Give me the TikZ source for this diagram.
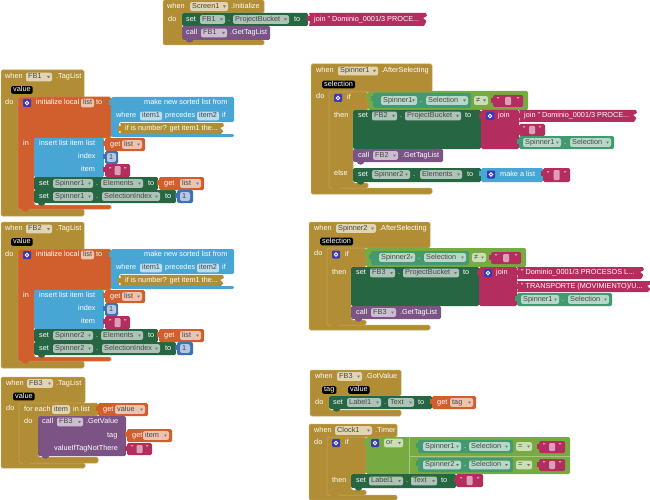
\documentclass[tikz,border=0pt]{standalone}
\usepackage{fontspec}
\setmainfont{Liberation Sans}
\definecolor{ctrlc}{HTML}{B18E35}
\definecolor{varc}{HTML}{D05F2D}
\definecolor{listc}{HTML}{49A6D4}
\definecolor{setc}{HTML}{266643}
\definecolor{getc}{HTML}{439970}
\definecolor{callc}{HTML}{7C5385}
\definecolor{textc}{HTML}{B32D5E}
\definecolor{logicc}{HTML}{77AB41}
\definecolor{mathc}{HTML}{3F71B5}
\definecolor{gearc}{HTML}{3A3AB8}
\tikzset{
  blk/.style={rounded corners=1.5pt},
  lab/.style={anchor=west, inner sep=0pt, text height=5.3pt, text depth=1.4pt, font=\fontsize{7.3}{9}\selectfont},
  wlab/.style={lab, text=white},
  flab/.style={lab, text=black!72},
  pilltext/.style={wlab, fill=black, rounded corners=1.5pt, inner xsep=2pt, inner ysep=0.6pt}
}
\newcounter{lab}
\newcommand\nlab[4]{\stepcounter{lab}\node[#1] (lb\arabic{lab}) at (#2,#3) {#4};}
\newcommand\wt[3]{\nlab{wlab}{#1}{#2}{#3}}
\newcommand\rblk[5]{\fill[#1, blk] (#2,#3) rectangle (#4,#5);}
\newcommand\bump[3]{\fill[#1, rounded corners=1pt] ({#2+4},{#3-1}) -- ({#2+4},{#3+1}) -- ({#2+6},{#3+2.5}) -- ({#2+9},{#3+2.5}) -- ({#2+11},{#3+1}) -- ({#2+11},{#3-1}) -- cycle;}
\newcommand\vblk[5]{\fill[#1] ({#2-2.5},{#3+3}) rectangle ({#2+1},{#3+8}); \rblk{#1}{#2}{#3}{#4}{#5}}
\newcommand\cblk[8]{\filldraw[fill=#1, draw=#1!80!white, line width=.5pt, blk] (#2,#3) -- (#4,#3) -- (#4,#7) -- (#6,#7) -- (#6,#8) -- (#4,#8) -- (#4,#5) -- (#2,#5) -- cycle;}
\newcommand\jag[5]{\fill[#1, rounded corners=.6pt] ({#2-2.5},{#3+3}) -- ({#2+1},{#3+3}) -- (#2,#3) -- ({#4+1},#3) -- ({#4+2},{#3+3}) -- ({#4-2},{#3+5}) -- ({#4+1.5},{#3+8}) -- ({#4-1},#5) -- (#2,#5) -- ({#2+1},{#3+8}) -- ({#2-2.5},{#3+8}) -- cycle;}
\newcommand\plainf[4]{\fill[white, fill opacity=.62, rounded corners=2pt] (#1,{#3-4.4}) rectangle (#2,{#3+4.4}); \nlab{flab}{#1+2}{#3}{#4}}
\newcommand\dropf[4]{\plainf{#1}{#2}{#3}{#4}\fill[black!55] ({#2-5},{#3-1}) -- ({#2-2},{#3-1}) -- ({#2-3.5},{#3+1.2}) -- cycle;}
\newcommand\pill[3]{\nlab{pilltext}{#1}{#2}{#3}}
\newcommand\gear[2]{\fill[gearc, rounded corners=1pt] (#1,{#2-4}) rectangle ({#1+8},{#2+4}); \filldraw[fill=gearc, draw=white, line width=.9pt] ({#1+4},#2) circle (1.8pt);}
\newcommand\qblk[4]{\vblk{textc}{#1}{#2}{#3}{#4}\wt{#1+4}{#2/2+#4/2}{"}\fill[white, fill opacity=.55, rounded corners=1pt] ({(#1+#3)/2-3},{#2+2}) rectangle ({(#1+#3)/2+3},{#4-2}); \wt{#3-6}{#2/2+#4/2}{"}}
\newcommand\getv[5]{\vblk{varc}{#1}{#2}{#3}{#2+13}\wt{#1+5}{#2+6.5}{get}\dropf{#4}{#3-3}{#2+6.5}{#5}}

\begin{document}
\begin{tikzpicture}[x=1pt, y=-1pt]
  \useasboundingbox (0,0) rectangle (650,500);

  \cblk{ctrlc}{163}{0}{264}{45}{182}{13}{40}
  \wt{167}{6.5}{when}\dropf{190}{228}{6.5}{Screen1}\wt{231}{6.5}{.Initialize}
  \wt{168}{19.5}{do}
  \bump{callc}{182}{40}
  \rblk{setc}{182}{13}{308}{26}
  \rblk{callc}{182}{26}{270}{40}
  \jag{textc}{309}{13}{425}{26}
  \wt{186}{19.5}{set}\dropf{200}{225}{19.5}{FB1}\wt{228}{19.5}{.}\dropf{233}{289}{19.5}{ProjectBucket}\wt{294}{19.5}{to}
  \wt{314}{19.5}{join " Dominio\_0001/3 PROCE...}
  \wt{186}{33}{call}\dropf{201}{227}{33}{FB1}\wt{230}{33}{.GetTagList}

  \foreach \fb/\spin/\dy in {FB1/Spinner1/0,FB2/Spinner2/152}{
    \begin{scope}[shift={(0,\dy)}]
      \cblk{ctrlc}{1}{70}{84}{216}{18}{98}{209}
      \wt{5}{77}{when}\dropf{26}{52}{77}{\fb}\wt{56}{77}{.TagList}
      \pill{11}{90}{value}
      \wt{5}{103}{do}
      \cblk{varc}{18}{97}{111}{209}{34}{138}{205}
      \bump{varc}{18}{209}
      \gear{23}{103}
      \wt{36}{103}{initialize local}\plainf{81}{94}{103}{list}\wt{96}{103}{to}
      \fill[listc, blk] (111,97) -- (234,97) -- (234,122) -- (119,122) -- (119,134) -- (234,134) -- (234,137) -- (111,137) -- cycle;
      \fill[listc] (108.5,100) rectangle (112,105);
      \jag{ctrlc}{120}{123}{222}{134}
      \wt{144}{103}{make new sorted list from}
      \wt{116}{116}{where}\plainf{140}{162}{116}{item1}\wt{165}{116}{precedes}\plainf{197}{219}{116}{item2}\wt{222}{116}{if}
      \wt{125}{128.5}{if is number? get item1 the...}
      \wt{23}{144}{in}
      \rblk{listc}{34}{138}{104}{177}
      \wt{39}{144}{insert list item}\wt{86}{144}{list}
      \wt{78}{157}{index}\wt{81}{170}{item}
      \getv{105}{138}{145}{122}{list}
      \vblk{mathc}{105}{151}{118}{164}
      \plainf{107}{116}{157.5}{1}
      \qblk{105}{164}{130}{177}
      \bump{setc}{34}{203}
      \rblk{setc}{34}{177}{158}{190}
      \rblk{setc}{34}{190}{176}{203}
      \wt{39}{183.5}{set}\dropf{53}{93}{183.5}{\spin}\wt{96}{183.5}{.}\dropf{101}{143}{183.5}{Elements}\wt{148}{183.5}{to}
      \getv{159}{177}{204}{180}{list}
      \wt{39}{196.5}{set}\dropf{53}{93}{196.5}{\spin}\wt{96}{196.5}{.}\dropf{102}{160}{196.5}{SelectionIndex}\wt{165}{196.5}{to}
      \vblk{mathc}{177}{190}{193}{203}
      \plainf{180}{190}{196.5}{1}
    \end{scope}
  }

  \cblk{ctrlc}{1}{377}{85}{468}{19}{403}{463}
  \wt{6}{383.5}{when}\dropf{27}{53}{383.5}{FB3}\wt{56}{383.5}{.TagList}
  \pill{13}{396.5}{value}
  \wt{6}{408.5}{do}
  \cblk{ctrlc}{19}{403}{98}{463}{38}{416}{457}
  \bump{ctrlc}{19}{463}
  \wt{24}{409.5}{for each}\plainf{52}{70}{409.5}{item}\wt{73}{409.5}{in list}
  \getv{98}{403}{148}{115}{value}
  \wt{24}{422}{do}
  \bump{callc}{38}{456}
  \rblk{callc}{38}{416}{126}{456}
  \wt{42}{422}{call}\dropf{57}{83}{422}{FB3}\wt{86}{422}{.GetValue}
  \wt{107}{435.5}{tag}\wt{54}{448.5}{valueIfTagNotThere}
  \getv{127}{429}{172}{143}{item}
  \qblk{127}{443}{152}{455}

  \cblk{ctrlc}{311}{64}{432}{194}{329}{92}{188}
  \wt{316}{71}{when}\dropf{338}{378}{71}{Spinner1}\wt{381}{71}{.AfterSelecting}
  \pill{322}{84.5}{selection}
  \wt{316}{97}{do}
  \cblk{ctrlc}{329}{92}{368}{188}{353}{110}{183}
  \bump{ctrlc}{329}{188}
  \gear{334}{98}\wt{347}{98}{if}
  \wt{334}{115.5}{then}\wt{334}{174}{else}
  \vblk{logicc}{368}{91}{528}{110}
  \vblk{getc}{373}{93}{471}{108}
  \dropf{381}{417}{100.5}{Spinner1}\wt{420}{100.5}{.}\dropf{426}{468}{100.5}{Selection}
  \dropf{474}{488}{100.5}{≠}
  \qblk{493}{95}{523}{107}
  \rblk{setc}{353}{110}{481}{149}
  \wt{358}{116}{set}\dropf{372}{397}{116}{FB2}\wt{400}{116}{.}\dropf{405}{461}{116}{ProjectBucket}\wt{465}{116}{to}
  \vblk{textc}{481}{110}{519}{149}
  \gear{486}{116}\wt{498}{116}{join}
  \jag{textc}{519}{110}{635}{122}
  \wt{524}{116}{join " Dominio\_0001/3 PROCE...}
  \qblk{519}{124}{545}{136}
  \vblk{getc}{519}{136}{614}{149}
  \dropf{523}{561}{142.5}{Spinner1}\wt{564}{142.5}{.}\dropf{570}{611}{142.5}{Selection}
  \bump{callc}{353}{162}
  \rblk{callc}{353}{149}{443}{162}
  \wt{358}{155.5}{call}\dropf{373}{398}{155.5}{FB2}\wt{402}{155.5}{.GetTagList}
  \bump{setc}{353}{182}
  \rblk{setc}{353}{168}{481}{182}
  \wt{358}{174.5}{set}\dropf{372}{410}{174.5}{Spinner2}\wt{413}{174.5}{.}\dropf{420}{462}{174.5}{Elements}\wt{467}{174.5}{to}
  \vblk{listc}{481}{168}{543}{182}
  \gear{487}{174.5}\wt{500}{174.5}{make a list}
  \qblk{543}{168}{570}{182}

  \cblk{ctrlc}{309}{222}{430}{330}{327}{248}{325}
  \wt{314}{228.5}{when}\dropf{336}{376}{228.5}{Spinner2}\wt{379}{228.5}{.AfterSelecting}
  \pill{320}{241.5}{selection}
  \wt{314}{254}{do}
  \cblk{ctrlc}{327}{248}{366}{325}{351}{267}{320}
  \bump{ctrlc}{327}{325}
  \gear{332}{254.5}\wt{345}{254.5}{if}
  \wt{332}{272.5}{then}
  \vblk{logicc}{366}{248}{526}{267}
  \vblk{getc}{371}{251}{469}{265}
  \dropf{379}{415}{257.5}{Spinner2}\wt{418}{257.5}{.}\dropf{424}{466}{257.5}{Selection}
  \dropf{472}{486}{257.5}{≠}
  \qblk{491}{252}{521}{264}
  \rblk{setc}{351}{267}{479}{306}
  \wt{356}{273}{set}\dropf{370}{395}{273}{FB3}\wt{398}{273}{.}\dropf{403}{459}{273}{ProjectBucket}\wt{463}{273}{to}
  \vblk{textc}{479}{267}{517}{306}
  \gear{484}{273}\wt{496}{273}{join}
  \jag{textc}{517}{267}{642}{279}
  \wt{521}{273}{" Dominio\_0001/3 PROCESOS L...}
  \jag{textc}{517}{281}{649}{292}
  \wt{521}{286.5}{" TRANSPORTE (MOVIMIENTO)/U...}
  \vblk{getc}{517}{293}{612}{306}
  \dropf{521}{559}{299.5}{Spinner1}\wt{562}{299.5}{.}\dropf{568}{609}{299.5}{Selection}
  \bump{callc}{351}{319}
  \rblk{callc}{351}{306}{441}{319}
  \wt{356}{312.5}{call}\dropf{371}{396}{312.5}{FB3}\wt{400}{312.5}{.GetTagList}

  \cblk{ctrlc}{310}{370}{401}{416}{329}{396}{410}
  \wt{315}{376.5}{when}\dropf{337}{362}{376.5}{FB3}\wt{365}{376.5}{.GotValue}
  \pill{322}{390}{tag}\pill{348}{390}{value}
  \wt{315}{402.5}{do}
  \bump{setc}{329}{409}
  \rblk{setc}{329}{396}{432}{409}
  \wt{333}{402.5}{set}\dropf{347}{381}{402.5}{Label1}\wt{384}{402.5}{.}\dropf{388}{414}{402.5}{Text}\wt{418}{402.5}{to}
  \getv{432}{396}{476}{450}{tag}

  \cblk{ctrlc}{309}{424}{397}{500}{327}{437}{495}
  \wt{314}{430.5}{when}\dropf{335}{372}{430.5}{Clock1}\wt{375}{430.5}{.Timer}
  \wt{314}{443}{do}
  \cblk{ctrlc}{327}{437}{366}{495}{351}{474}{490}
  \bump{ctrlc}{327}{495}
  \gear{332}{443}\wt{345}{443}{if}
  \wt{332}{480.5}{then}
  \vblk{logicc}{366}{437}{570}{474}
  \draw[white, opacity=.35, line width=.5pt] (409,456) -- (570,456) (409,437) -- (409,474);
  \gear{371}{443}\dropf{384}{403}{443}{or}
  \vblk{getc}{418}{440}{513}{453}
  \dropf{423}{461}{446.5}{Spinner1}\wt{464}{446.5}{.}\dropf{469}{510}{446.5}{Selection}
  \dropf{516}{532}{446.5}{=}
  \qblk{539}{441}{565}{453}
  \vblk{getc}{418}{458}{513}{472}
  \dropf{423}{461}{465}{Spinner2}\wt{464}{465}{.}\dropf{469}{510}{465}{Selection}
  \dropf{516}{532}{465}{=}
  \qblk{539}{459}{565}{471}
  \bump{setc}{351}{488}
  \rblk{setc}{351}{474}{456}{488}
  \wt{356}{481}{set}\dropf{369}{403}{481}{Label1}\wt{406}{481}{.}\dropf{411}{437}{481}{Text}\wt{441}{481}{to}
  \qblk{456}{474}{483}{487}
\end{tikzpicture}
\end{document}
